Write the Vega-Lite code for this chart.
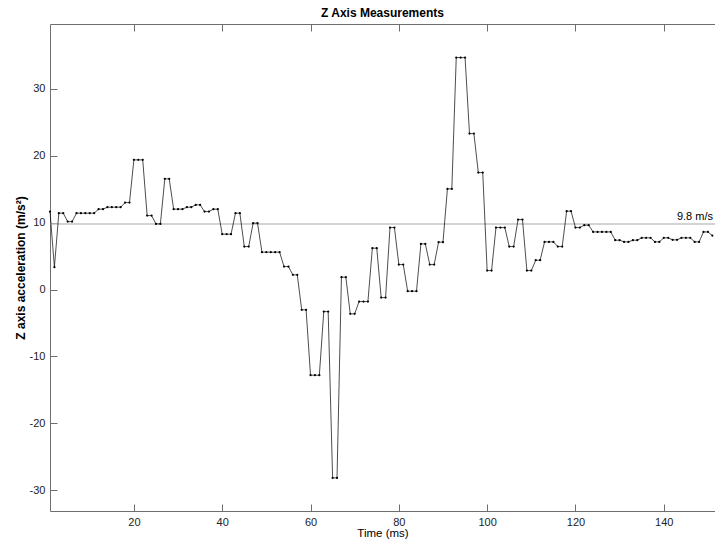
{
  "$schema": "https://vega.github.io/schema/vega-lite/v6.json",
  "width": 665,
  "height": 487,
  "autosize": {"type": "none"},
  "padding": {"left": 50, "top": 24, "right": 0, "bottom": 30},
  "background": "white",
  "title": {"text": "Z Axis Measurements", "font": "Liberation Sans", "fontSize": 12, "fontWeight": "bold", "color": "#000000", "offset": 4, "anchor": "middle"},
  "config": {
    "view": {"stroke": null},
    "axis": {"domainColor": "#6e6e6e", "tickColor": "#6e6e6e", "labelColor": "#222222", "labelFont": "Liberation Sans", "labelFontSize": 11, "titleFont": "Liberation Sans", "titleColor": "#000000", "grid": false, "labelFlush": false, "labelOverlap": false}
  },
  "datasets": {
    "z": [
      {"t": 1, "a": 11.66}, {"t": 2, "a": 3.35}, {"t": 3, "a": 11.42}, {"t": 4, "a": 11.42}, {"t": 5, "a": 10.16},
      {"t": 6, "a": 10.16}, {"t": 7, "a": 11.42}, {"t": 8, "a": 11.42}, {"t": 9, "a": 11.42}, {"t": 10, "a": 11.42},
      {"t": 11, "a": 11.42}, {"t": 12, "a": 12.02}, {"t": 13, "a": 12.02}, {"t": 14, "a": 12.32}, {"t": 15, "a": 12.32},
      {"t": 16, "a": 12.32}, {"t": 17, "a": 12.32}, {"t": 18, "a": 13.0}, {"t": 19, "a": 13.0}, {"t": 20, "a": 19.39},
      {"t": 21, "a": 19.39}, {"t": 22, "a": 19.39}, {"t": 23, "a": 11.06}, {"t": 24, "a": 11.06}, {"t": 25, "a": 9.82},
      {"t": 26, "a": 9.82}, {"t": 27, "a": 16.55}, {"t": 28, "a": 16.55}, {"t": 29, "a": 12.02}, {"t": 30, "a": 12.02},
      {"t": 31, "a": 12.02}, {"t": 32, "a": 12.32}, {"t": 33, "a": 12.32}, {"t": 34, "a": 12.66}, {"t": 35, "a": 12.66},
      {"t": 36, "a": 11.66}, {"t": 37, "a": 11.66}, {"t": 38, "a": 12.02}, {"t": 39, "a": 12.02}, {"t": 40, "a": 8.28},
      {"t": 41, "a": 8.28}, {"t": 42, "a": 8.28}, {"t": 43, "a": 11.42}, {"t": 44, "a": 11.42}, {"t": 45, "a": 6.43},
      {"t": 46, "a": 6.43}, {"t": 47, "a": 9.93}, {"t": 48, "a": 9.93}, {"t": 49, "a": 5.59}, {"t": 50, "a": 5.59},
      {"t": 51, "a": 5.59}, {"t": 52, "a": 5.59}, {"t": 53, "a": 5.59}, {"t": 54, "a": 3.44}, {"t": 55, "a": 3.44},
      {"t": 56, "a": 2.2}, {"t": 57, "a": 2.2}, {"t": 58, "a": -3.03}, {"t": 59, "a": -3.03}, {"t": 60, "a": -12.8},
      {"t": 61, "a": -12.8}, {"t": 62, "a": -12.8}, {"t": 63, "a": -3.29}, {"t": 64, "a": -3.29}, {"t": 65, "a": -28.15},
      {"t": 66, "a": -28.15}, {"t": 67, "a": 1.85}, {"t": 68, "a": 1.85}, {"t": 69, "a": -3.63}, {"t": 70, "a": -3.63},
      {"t": 71, "a": -1.79}, {"t": 72, "a": -1.79}, {"t": 73, "a": -1.79}, {"t": 74, "a": 6.19}, {"t": 75, "a": 6.19},
      {"t": 76, "a": -1.2}, {"t": 77, "a": -1.2}, {"t": 78, "a": 9.27}, {"t": 79, "a": 9.27}, {"t": 80, "a": 3.74},
      {"t": 81, "a": 3.74}, {"t": 82, "a": -0.24}, {"t": 83, "a": -0.24}, {"t": 84, "a": -0.24}, {"t": 85, "a": 6.83},
      {"t": 86, "a": 6.83}, {"t": 87, "a": 3.74}, {"t": 88, "a": 3.74}, {"t": 89, "a": 7.09}, {"t": 90, "a": 7.09},
      {"t": 91, "a": 15.05}, {"t": 92, "a": 15.05}, {"t": 93, "a": 34.68}, {"t": 94, "a": 34.68}, {"t": 95, "a": 34.68},
      {"t": 96, "a": 23.32}, {"t": 97, "a": 23.32}, {"t": 98, "a": 17.49}, {"t": 99, "a": 17.49}, {"t": 100, "a": 2.84},
      {"t": 101, "a": 2.84}, {"t": 102, "a": 9.27}, {"t": 103, "a": 9.27}, {"t": 104, "a": 9.27}, {"t": 105, "a": 6.43},
      {"t": 106, "a": 6.43}, {"t": 107, "a": 10.46}, {"t": 108, "a": 10.46}, {"t": 109, "a": 2.84}, {"t": 110, "a": 2.84},
      {"t": 111, "a": 4.39}, {"t": 112, "a": 4.39}, {"t": 113, "a": 7.13}, {"t": 114, "a": 7.13}, {"t": 115, "a": 7.13},
      {"t": 116, "a": 6.43}, {"t": 117, "a": 6.43}, {"t": 118, "a": 11.72}, {"t": 119, "a": 11.72}, {"t": 120, "a": 9.27},
      {"t": 121, "a": 9.27}, {"t": 122, "a": 9.63}, {"t": 123, "a": 9.63}, {"t": 124, "a": 8.62}, {"t": 125, "a": 8.62},
      {"t": 126, "a": 8.62}, {"t": 127, "a": 8.62}, {"t": 128, "a": 8.62}, {"t": 129, "a": 7.38}, {"t": 130, "a": 7.38},
      {"t": 131, "a": 7.13}, {"t": 132, "a": 7.13}, {"t": 133, "a": 7.38}, {"t": 134, "a": 7.38}, {"t": 135, "a": 7.73},
      {"t": 136, "a": 7.73}, {"t": 137, "a": 7.73}, {"t": 138, "a": 7.13}, {"t": 139, "a": 7.13}, {"t": 140, "a": 7.73},
      {"t": 141, "a": 7.73}, {"t": 142, "a": 7.43}, {"t": 143, "a": 7.43}, {"t": 144, "a": 7.73}, {"t": 145, "a": 7.73},
      {"t": 146, "a": 7.73}, {"t": 147, "a": 7.13}, {"t": 148, "a": 7.13}, {"t": 149, "a": 8.62}, {"t": 150, "a": 8.62},
      {"t": 151, "a": 8.07}
    ],
    "ref": [{"g": 9.8, "label": "9.8 m/s"}]
  },
  "layer": [
    {
      "data": {"name": "ref"},
      "mark": {"type": "rule", "color": "#c4c4c4", "strokeWidth": 1.5},
      "encoding": {
        "y": {"field": "g", "type": "quantitative", "scale": {"domain": [-33.1, 39.7], "nice": false, "zero": false},
          "axis": {"values": [-30, -20, -10, 0, 10, 20, 30], "labelExpr": "'' + datum.value", "tickSize": -7, "labelPadding": 12, "title": "Z axis acceleration (m/s²)", "titleFontSize": 12, "titleFontWeight": "bold", "titleAngle": -90, "titleX": -30, "titleY": 243.5, "titleAlign": "center", "titleBaseline": "middle"}}
      }
    },
    {
      "data": {"name": "z"},
      "mark": {"type": "line", "color": "#000000", "strokeWidth": 0.7, "point": {"filled": true, "size": 5, "color": "#000000"}},
      "encoding": {
        "x": {"field": "t", "type": "quantitative", "scale": {"domain": [1, 151.6], "nice": false, "zero": false},
          "axis": {"orient": "bottom", "values": [20, 40, 60, 80, 100, 120, 140], "tickSize": -7, "labelPadding": 12, "title": "Time (ms)", "titleFontSize": 11.5, "titleFontWeight": "normal", "titleY": 22, "titleBaseline": "middle"}},
        "y": {"field": "a", "type": "quantitative",
          "axis": {"values": [-30, -20, -10, 0, 10, 20, 30], "labelExpr": "'' + datum.value", "tickSize": -7, "labelPadding": 12, "title": "Z axis acceleration (m/s²)", "titleFontSize": 12, "titleFontWeight": "bold", "titleAngle": -90, "titleX": -30, "titleY": 243.5, "titleAlign": "center", "titleBaseline": "middle"}}
      }
    },
    {
      "data": {"name": "ref"},
      "mark": {"type": "text", "align": "right", "baseline": "bottom", "dx": -2, "dy": -2, "font": "Liberation Sans", "fontSize": 11, "color": "#000000"},
      "encoding": {
        "x": {"datum": 151.6, "type": "quantitative",
          "axis": {"orient": "top", "values": [20, 40, 60, 80, 100, 120, 140], "tickSize": -7, "labels": false, "title": null}},
        "y": {"field": "g", "type": "quantitative",
          "axis": {"values": [-30, -20, -10, 0, 10, 20, 30], "labelExpr": "'' + datum.value", "tickSize": -7, "labelPadding": 12, "title": "Z axis acceleration (m/s²)", "titleFontSize": 12, "titleFontWeight": "bold", "titleAngle": -90, "titleX": -30, "titleY": 243.5, "titleAlign": "center", "titleBaseline": "middle"}},
        "text": {"field": "label"}
      }
    }
  ],
  "resolve": {"axis": {"x": "independent"}}
}
